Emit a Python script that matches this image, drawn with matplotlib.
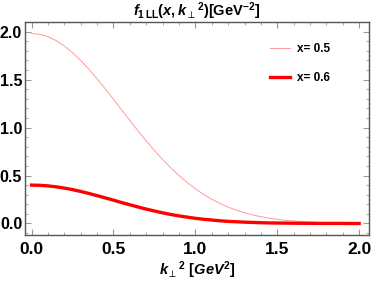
import matplotlib
matplotlib.use("Agg")
import matplotlib.pyplot as plt
from matplotlib.ticker import MultipleLocator

plt.rcParams['font.family'] = ['Liberation Sans', 'DejaVu Sans']
plt.rcParams['mathtext.fontset'] = 'custom'
plt.rcParams['mathtext.rm'] = 'Liberation Sans:bold'
plt.rcParams['mathtext.it'] = 'Liberation Sans:italic:bold'
plt.rcParams['mathtext.bf'] = 'Liberation Sans:bold'
plt.rcParams['mathtext.fallback'] = 'stixsans'

# k_perp^2 grid (GeV^2) and values
kt2 = [0.00, 0.05, 0.10, 0.15, 0.20, 0.25, 0.30, 0.35, 0.40, 0.45,
       0.50, 0.55, 0.60, 0.65, 0.70, 0.75, 0.80, 0.85, 0.90, 0.95,
       1.00, 1.05, 1.10, 1.15, 1.20, 1.25, 1.30, 1.35, 1.40, 1.45,
       1.50, 1.55, 1.60, 1.65, 1.70, 1.75, 1.80, 1.85, 1.90, 1.95, 2.00]

f_x05 = [1.980, 1.972, 1.947, 1.906, 1.850, 1.780, 1.699, 1.608, 1.509, 1.403,
         1.295, 1.184, 1.074, 0.965, 0.861, 0.761, 0.667, 0.580, 0.500, 0.427,
         0.362, 0.304, 0.253, 0.209, 0.171, 0.139, 0.112, 0.089, 0.071, 0.055,
         0.043, 0.033, 0.026, 0.020, 0.015, 0.011, 0.008, 0.006, 0.004, 0.003, 0.002]

f_x06 = [0.400, 0.398, 0.392, 0.382, 0.369, 0.353, 0.334, 0.313, 0.290, 0.267,
         0.243, 0.218, 0.195, 0.172, 0.150, 0.130, 0.111, 0.094, 0.079, 0.066,
         0.054, 0.044, 0.036, 0.028, 0.022, 0.018, 0.014, 0.011, 0.008, 0.006,
         0.005, 0.004, 0.003, 0.002, 0.002, 0.001, 0.001, 0.001, 0.001, 0.000, 0.000]

fig = plt.figure(figsize=(3.74, 2.81), dpi=100)
ax = fig.add_axes([25/374, 1 - 235/281, 344/374, 213/281])

ax.plot(kt2, f_x05, color='#ff9a9a', lw=0.7, label='x= 0.5')
ax.plot(kt2, f_x06, color='#ff0000', lw=2.4, label='x= 0.6')

ax.set_xlim(-0.04, 2.06)
ax.set_ylim(-0.12, 2.10)
ax.xaxis.set_major_locator(MultipleLocator(0.5))
ax.xaxis.set_minor_locator(MultipleLocator(0.1))
ax.yaxis.set_major_locator(MultipleLocator(0.5))
ax.yaxis.set_minor_locator(MultipleLocator(0.1))
ax.tick_params(which='both', direction='in', top=True, right=True,
               color='#999999')
ax.tick_params(which='major', length=4)
ax.tick_params(which='minor', length=2)
ax.tick_params(axis='x', pad=5, labelsize=12.5)
ax.tick_params(axis='y', pad=2, labelsize=11.5)
for lab in ax.get_xticklabels() + ax.get_yticklabels():
    lab.set_fontweight('bold')
for s in ax.spines.values():
    s.set_color('#555555')
    s.set_linewidth(1.0)

ax.set_title(r'$f_{\mathrm{1\,LL}}(x,k_{\perp}{}^{2})[\mathrm{GeV}^{-2}]$',
             fontsize=10.5, pad=3)
ax.set_xlabel(r'$k_{\perp}{}^{2}\ [GeV^{2}]$', fontsize=10.5, labelpad=2)

leg = ax.legend(loc='upper left', frameon=False, fontsize=8.5,
                handlelength=1.7, handletextpad=0.6, labelspacing=1.4,
                borderpad=0, borderaxespad=0,
                bbox_to_anchor=(0.712, 0.90))
for t in leg.get_texts():
    t.set_fontweight('bold')

fig.savefig('out.png', dpi=100)
